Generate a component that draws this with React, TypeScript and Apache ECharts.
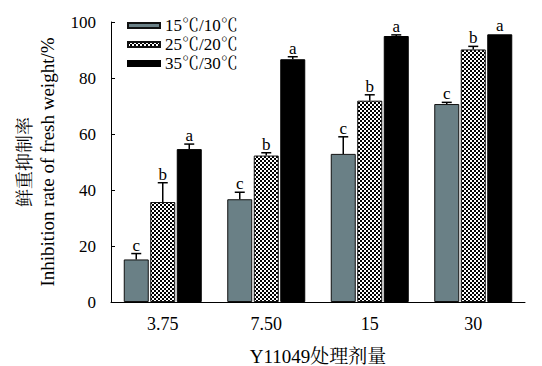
import React, { useEffect, useRef } from "react";
import * as echarts from "echarts";

const categories = ["3.75", "7.50", "15", "30"];
const seriesNames = ["15℃/10℃", "25℃/20℃", "35℃/30℃"];
const low = [15.2, 36.7, 52.9, 70.7];
const mid = [35.7, 52.3, 71.9, 90.2];
const high = [54.6, 86.7, 95.0, 95.6];
const lowErr = [2.1, 2.5, 6.1, 0.6];
const midErr = [6.9, 1.0, 2.1, 1.1];
const highErr = [1.8, 0.9, 0.4, 0];
const lowLetters = ["c", "c", "c", "c"];
const midLetters = ["b", "b", "b", "b"];
const highLetters = ["a", "a", "a", "a"];
const yTicks = [0, 20, 40, 60, 80, 100];

const FONT = "'Liberation Serif', 'Times New Roman', 'Noto Serif CJK SC', 'Noto Sans CJK SC', serif";

function makeChecker(): string {
  const c = document.createElement("canvas");
  c.width = 4;
  c.height = 4;
  const ctx = c.getContext("2d")!;
  ctx.fillStyle = "#ffffff";
  ctx.fillRect(0, 0, 4, 4);
  ctx.fillStyle = "#000000";
  ctx.fillRect(0, 0, 2, 2);
  ctx.fillRect(2, 2, 2, 2);
  return c.toDataURL("image/png");
}

export default function App() {
  const ref = useRef<HTMLDivElement>(null);
  useEffect(() => {
    if (!ref.current) return;
    const chart = echarts.init(ref.current, undefined, { renderer: "svg" });
    const checker = makeChecker();
    const barWidth = 25;
    const step = 26.5;
    const groups = [
      { vals: low, errs: lowErr, letters: lowLetters, offset: -step },
      { vals: mid, errs: midErr, letters: midLetters, offset: 0 },
      { vals: high, errs: highErr, letters: highLetters, offset: step },
    ];
    const errSeries = groups.map((g, si) => ({
      type: "custom",
      name: "err" + si,
      silent: true,
      z: 5,
      data: g.vals.map((v, i) => [i, v, g.errs[i]]),
      renderItem: (params: any, api: any) => {
        const idx = api.value(0);
        const v = api.value(1);
        const e = api.value(2);
        const letter = g.letters[idx];
        const x = api.coord([idx, 0])[0] + g.offset;
        const yTop = api.coord([idx, v])[1];
        const yErr = api.coord([idx, v + e])[1];
        const children: any[] = [];
        if (e > 0) {
          children.push({
            type: "line",
            shape: { x1: x, y1: yTop, x2: x, y2: yErr },
            style: { stroke: "#000", lineWidth: 1.5 },
          });
          children.push({
            type: "line",
            shape: { x1: x - 5, y1: yErr, x2: x + 5, y2: yErr },
            style: { stroke: "#000", lineWidth: 1.5 },
          });
        }
        children.push({
          type: "text",
          style: {
            x: x,
            y: yErr,
            text: letter,
            align: "center",
            verticalAlign: "bottom",
            font: "17px " + FONT,
            fill: "#000",
          },
        });
        return { type: "group", children };
      },
    }));

    const option: any = {
      animation: false,
      textStyle: { fontFamily: FONT },
      grid: { left: 103, right: 17, top: 14, bottom: 64, containLabel: false, outerBoundsMode: "none" },
      legend: {
        orient: "vertical",
        left: 114,
        top: 4,
        itemWidth: 32,
        itemHeight: 5,
        itemGap: 2,
        icon: "rect",
        data: seriesNames,
        textStyle: { fontFamily: FONT, fontSize: 17, lineHeight: 17, color: "#000" },
      },
      xAxis: {
        type: "category",
        data: categories,
        axisLine: { lineStyle: { color: "#000", width: 1 } },
        axisTick: { show: false },
        axisLabel: { color: "#000", fontSize: 18, fontFamily: FONT, margin: 13 },
        name: "Y11049处理剂量",
        nameLocation: "middle",
        nameGap: 45,
        nameTextStyle: { color: "#000", fontSize: 19, fontFamily: FONT },
      },
      yAxis: {
        type: "value",
        min: 0,
        max: 100,
        interval: 20,
        axisLine: { show: true, lineStyle: { color: "#000", width: 1 } },
        axisTick: { show: true, inside: true, length: 4, lineStyle: { color: "#000" } },
        splitLine: { show: false },
        axisLabel: {
          color: "#000",
          fontSize: 17,
          fontFamily: FONT,
          margin: 15,
          formatter: (v: number) => (yTicks.includes(v) ? String(v) : ""),
        },
        name: "{cn|鲜重抑制率}\n{en|Inhibition rate of fresh weight/%}",
        nameLocation: "middle",
        nameGap: 53,
        nameTextStyle: {
          color: "#000",
          fontFamily: FONT,
          rich: {
            cn: { fontSize: 18, lineHeight: 22, fontFamily: FONT, color: "#000" },
            en: { fontSize: 19, lineHeight: 22, fontFamily: FONT, color: "#000" },
          },
        },
      },
      series: [
        {
          type: "bar",
          name: seriesNames[0],
          data: low,
          barWidth,
          barGap: "6%",
          itemStyle: { color: "#6a8086", borderColor: "#111", borderWidth: 1 },
        },
        {
          type: "bar",
          name: seriesNames[1],
          data: mid,
          barWidth,
          barGap: "6%",
          itemStyle: {
            color: { image: checker, repeat: "repeat" },
            borderColor: "#111",
            borderWidth: 1,
          },
        },
        {
          type: "bar",
          name: seriesNames[2],
          data: high,
          barWidth,
          barGap: "6%",
          itemStyle: { color: "#000", borderColor: "#000", borderWidth: 1 },
        },
        ...errSeries,
      ],
    };
    chart.setOption(option);
    return () => chart.dispose();
  }, []);
  return <div ref={ref} style={{ width: 534, height: 358 }} />;
}
